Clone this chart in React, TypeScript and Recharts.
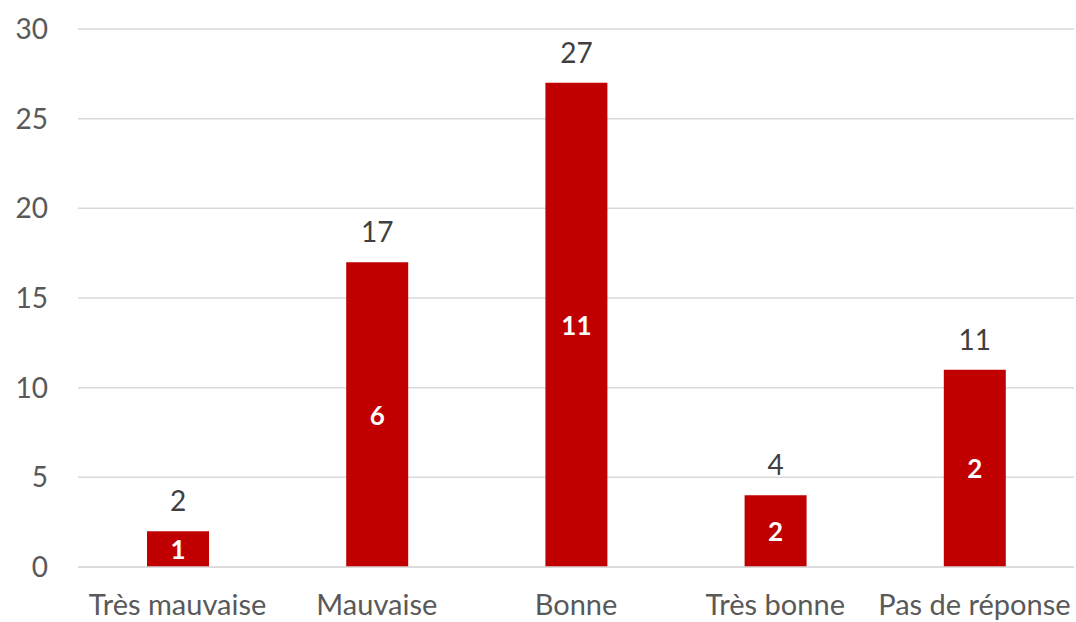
import { Bar, BarChart, CartesianGrid, LabelList, XAxis, YAxis } from "recharts";

const categories = ["Très mauvaise", "Mauvaise", "Bonne", "Très bonne", "Pas de réponse"];
const totals = [2, 17, 27, 4, 11];
const inner = [1, 6, 11, 2, 2];
const yTicks = [0, 5, 10, 15, 20, 25, 30];

const data = categories.map((name, i) => ({ name, total: totals[i], inner: inner[i] }));

const FONT = "Lato, 'Liberation Sans', sans-serif";

function InnerLabel(props: any) {
  const { x, y, width, height, index } = props;
  return (
    <text
      x={x + width / 2}
      y={y + height / 2}
      textAnchor="middle"
      dominantBaseline="central"
      fill="#ffffff"
      fontWeight="bold"
      fontSize={26}
      fontFamily={FONT}
    >
      {inner[index]}
    </text>
  );
}

export default function App() {
  return (
    <div style={{ position: "absolute", left: 0, top: 0, background: "#fff" }}>
      <BarChart
        width={1076}
        height={622}
        data={data}
        margin={{ top: 29, right: 2, bottom: 0, left: 18 }}
        barCategoryGap={0}
      >
        <CartesianGrid vertical={false} stroke="#d9d9d9" strokeWidth={1.5} />
        <XAxis
          dataKey="name"
          axisLine={{ stroke: "#d9d9d9", strokeWidth: 1.5 }}
          tickLine={false}
          tickSize={0}
          tickMargin={27}
          height={55}
          interval={0}
          tick={{ fill: "#595959", fontSize: 29, fontFamily: FONT }}
        />
        <YAxis
          domain={[0, 30]}
          ticks={yTicks}
          axisLine={false}
          tickLine={false}
          tickSize={0}
          tickMargin={30}
          width={60}
          tick={{ fill: "#595959", fontSize: 28, fontFamily: FONT }}
        />
        <Bar dataKey="total" fill="#C00000" barSize={62} isAnimationActive={false}>
          <LabelList
            dataKey="total"
            position="top"
            offset={20}
            fill="#404040"
            fontSize={28}
            fontFamily={FONT}
          />
          <LabelList dataKey="inner" content={InnerLabel} />
        </Bar>
      </BarChart>
    </div>
  );
}
